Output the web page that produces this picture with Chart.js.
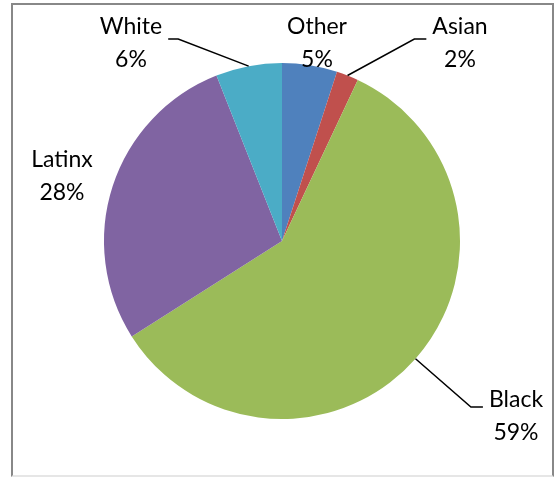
<!DOCTYPE html>
<html lang="en">
<head>
    <meta charset="UTF-8">
    <title>Race / Ethnicity Pie</title>
    <script src="https://cdn.jsdelivr.net/npm/chart.js@4.4.2/dist/chart.umd.min.js"></script>
    <style>
        html, body {
            margin: 0;
            padding: 0;
            background: #fff;
        }
        .wrap {
            position: relative;
            width: 556px;
            height: 477px;
            overflow: hidden;
        }
        .frame {
            position: absolute;
            left: 11px;
            top: 3px;
            width: 539px;
            height: 470px;
            border: 2px solid #888;
            border-bottom-color: #e6e6e6;
        }
        canvas {
            position: absolute;
            left: 0;
            top: 0;
        }
    </style>
</head>
<body>
<div class="wrap">
    <div class="frame"></div>
    <canvas id="pie" width="556" height="477"></canvas>
</div>
<script>
    // --- Data ---
    const categories = ['Other', 'Asian', 'Black', 'Latinx', 'White'];
    const percents = [5, 2, 59, 28, 6];
    const colors = ['#4F81BD', '#C0504D', '#9BBB59', '#8064A2', '#4BACC6'];

    // label placement relative to the pie centre (px); leader = draw a connector
    const labelSpots = [
        { dx: 35, dy: -198, leader: false },
        { dx: 178, dy: -198, leader: true, side: 'left' },
        { dx: 234, dy: 175, leader: true, side: 'left' },
        { dx: -220, dy: -65, leader: false },
        { dx: -151, dy: -198, leader: true, side: 'right' }
    ];

    const FONT = '23px Lato, "Open Sans", sans-serif';

    // draws "Name / xx%" labels plus leader lines like Excel does
    const pieLabels = {
        id: 'pieLabels',
        afterDatasetsDraw(chart) {
            const ctx = chart.ctx;
            const meta = chart.getDatasetMeta(0);
            ctx.save();
            ctx.font = FONT;
            ctx.fillStyle = '#000';
            ctx.textAlign = 'center';
            ctx.textBaseline = 'middle';
            meta.data.forEach((arc, i) => {
                const spot = labelSpots[i];
                const cx = arc.x, cy = arc.y;
                const lx = cx + spot.dx, ly = cy + spot.dy;
                const l1 = categories[i];
                const l2 = percents[i] + '%';
                ctx.fillText(l1, lx, ly - 16);
                ctx.fillText(l2, lx, ly + 17);

                if (spot.leader) {
                    const mid = (arc.startAngle + arc.endAngle) / 2;
                    const sx = cx + Math.cos(mid) * arc.outerRadius;
                    const sy = cy + Math.sin(mid) * arc.outerRadius;
                    const w = ctx.measureText(l1).width;
                    let endX, elbowX;
                    const lineY = spot.dy < 0 ? ly - 4 : ly - 9;
                    if (spot.side === 'left') {
                        endX = lx - w / 2 - 6;
                        elbowX = endX - 12;
                    } else {
                        endX = lx + w / 2 + 6;
                        elbowX = endX + 10;
                    }
                    ctx.beginPath();
                    ctx.strokeStyle = '#000';
                    ctx.lineWidth = 1.5;
                    ctx.moveTo(sx, sy);
                    ctx.lineTo(elbowX, lineY);
                    ctx.lineTo(endX, lineY);
                    ctx.stroke();
                }
            });
            ctx.restore();
        }
    };

    new Chart(document.getElementById('pie'), {
        type: 'pie',
        data: {
            labels: categories,
            datasets: [{
                data: percents,
                backgroundColor: colors,
                borderWidth: 0
            }]
        },
        options: {
            responsive: false,
            animation: false,
            devicePixelRatio: 1,
            layout: {
                padding: { left: 104, right: 96, top: 63, bottom: 58 }
            },
            plugins: {
                legend: { display: false },
                tooltip: { enabled: false }
            }
        },
        plugins: [pieLabels]
    });
</script>
</body>
</html>
